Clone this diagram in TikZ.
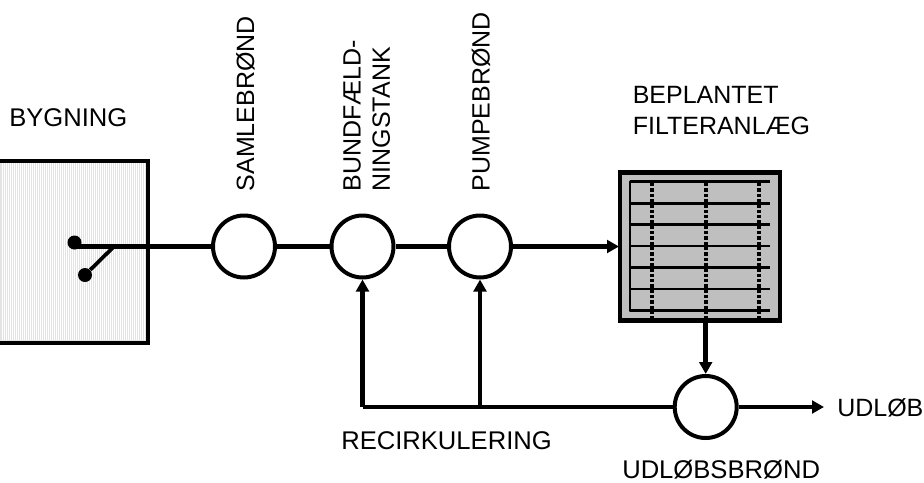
\documentclass[tikz,border=0pt]{standalone}
\usepackage{fontspec}
\setmainfont{Liberation Sans}
\usetikzlibrary{arrows.meta}
\tikzset{
  x=0.75pt,y=-0.75pt,
  lbl/.style={inner sep=0pt,align=left,font=\fontsize{19.2}{22}\selectfont},
  lblb/.style={inner sep=0pt,align=left,font=\fontsize{18.75}{22}\selectfont},
  vlbl/.style={lblb,rotate=90,anchor=south west},
  well/.style={circle,draw=black,fill=white,line width=3pt,minimum size=46.5pt,inner sep=0pt},
  dotn/.style={circle,fill=black,minimum size=10.5pt,inner sep=0pt},
  pipe/.style={line width=3.5pt,draw=black},
  flow/.style={pipe,-{Triangle[length=9pt,width=9.5pt]},shorten >=0pt},
  grid/.style={line width=2.1pt,draw=black},
  dotgrid/.style={line width=3pt,draw=black,dash pattern=on 2.6pt off 1.4pt},
}
\begin{document}
\begin{tikzpicture}
\useasboundingbox (0,0) rectangle (924,482);
% building
\fill[gray!22!white] (0,160) rectangle (148,342);
\foreach \i in {1,...,73}{\draw[white,line width=0.55pt] (\i*2,163) -- (\i*2,340);}
\draw[line width=3pt] (0,160.5) -- (148,160.5) -- (148,342.5) -- (0,342.5);
% filter
\node[draw=black,fill=black!25,line width=3.6pt,minimum width=120pt,minimum height=111pt,inner sep=0pt] (filter) at (700,246.5) {};
\foreach \y in {181.7,203.3,224.3,246,267.7,289,310.7}{\draw[grid] (630,\y) -- (770,\y);}
\draw[grid,line cap=round] (630,181.7) -- (630,310.7);
\foreach \x in {651.7,705.7,759}{\draw[dotgrid] (\x,183) -- (\x,320);}
% nodes
\node[well] (w1) at (244,246.5) {};
\node[well] (w2) at (362.5,246.5) {};
\node[well] (w3) at (480,246.5) {};
\node[well] (w4) at (705.7,407) {};
\node[dotn] (d1) at (74.5,242.5) {};
\node[dotn] (d2) at (85,275) {};
\coordinate (j1) at (74.5,246.5);
\coordinate (j2) at (114,246.5);
\coordinate (in) at (619,246.5);
\coordinate (c2) at (362.5,407);
\coordinate (c3) at (480,407);
\coordinate (fout) at (705.7,322);
\coordinate (outend) at (824,407);
% connectors
\draw[pipe] (j1) -- (w1);
\draw[line width=2.8pt] (d2) -- (j2);
\draw[pipe] (w1) -- (w2);
\draw[pipe] (w2) -- (w3);
\draw[flow] (w3) -- (in);
\draw[flow] (fout) -- (w4);
\draw[flow] (w4) -- (outend);
\draw[pipe] (w4) -- (c2);
\draw[flow] (c2) -- (w2);
\draw[flow] (c3) -- (w3);
% labels
\node[lbl,anchor=base west] (t1) at (9,126) {BYGNING};
\node[vlbl] (t2) at (255,191.5) {SAMLEBRØND};
\node[vlbl] (t3) at (390.5,191.5) {BUNDFÆLD-\\NINGSTANK};
\node[vlbl] (t4) at (490.5,191.5) {PUMPEBRØND};
\node[lblb,anchor=base west,align=left] (t5) at (632.5,103) {BEPLANTET};
\node[lblb,anchor=base west,align=left] (t5b) at (632.5,134) {FILTERANLÆG};
\node[lbl,anchor=base west] (t6) at (341,449) {RECIRKULERING};
\node[lbl,anchor=base west] (t7) at (622,478) {UDLØBSBRØND};
\node[lblb,anchor=base west] (t8) at (837,416) {UDLØB};
\end{tikzpicture}
\end{document}
